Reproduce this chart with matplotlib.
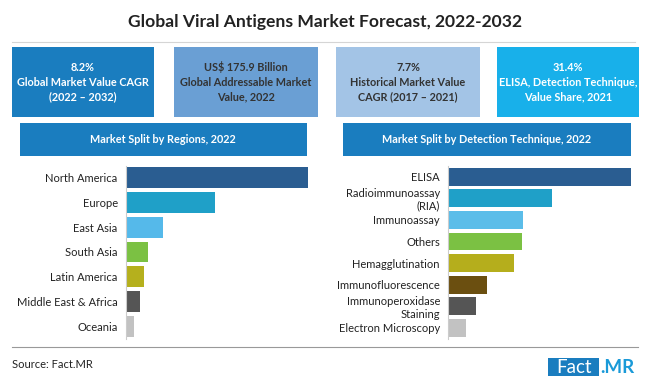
import matplotlib.pyplot as plt
from matplotlib.patches import Rectangle

plt.rcParams['font.family'] = ['Lato', 'DejaVu Sans']

# data
title = "Global Viral Antigens Market Forecast, 2022-2032"
kpi_texts = ["8.2%\nGlobal Market Value CAGR\n(2022 – 2032)",
             "US$ 175.9 Billion\nGlobal Addressable Market\nValue, 2022",
             "7.7%\nHistorical Market Value\nCAGR (2017 – 2021)",
             "31.4%\nELISA, Detection Technique,\nValue Share, 2021"]
kpi_colors = ["#1a7dbf", "#6a9fd4", "#a3c4e6", "#18b0ea"]
kpi_text_colors = ["white", "#333333", "#333333", "white"]

region_names = ["North America", "Europe", "East Asia", "South Asia",
                "Latin America", "Middle East & Africa", "Oceania"]
region_share = [49.2, 24.0, 10.0, 6.0, 5.0, 3.7, 2.2]
region_colors = ["#2a5d91", "#1fa0c8", "#55b9ea", "#7bc143",
                 "#b5b01d", "#555555", "#c2c2c2"]

tech_names = ["ELISA", "Radioimmunoassay\n(RIA)", "Immunoassay", "Others",
              "Hemagglutination", "Immunofluorescence",
              "Immunoperoxidase\nStaining", "Electron Microscopy"]
tech_share = [31.4, 17.8, 12.9, 12.7, 11.3, 6.6, 4.7, 3.0]
tech_colors = ["#2a5d91", "#1fa0c8", "#5bbde9", "#7bc143",
               "#b5ae1c", "#6b4f10", "#555555", "#c2c2c2"]

W, H = 650, 381
fig = plt.figure(figsize=(6.5, 3.81), dpi=100)


def fx(x):
    return x / W


def fy(y):
    return 1 - y / H


def box(x0, y0, x1, y1, color):
    fig.patches.append(Rectangle((fx(x0), fy(y1)), fx(x1 - x0), (y1 - y0) / H,
                                 transform=fig.transFigure, facecolor=color,
                                 edgecolor='none', zorder=0))


fig.text(fx(325), fy(22), title, ha='center', va='center', fontsize=12.6,
         fontweight='bold', color='#222222')
fig.add_artist(plt.Line2D([fx(12), fx(635)], [fy(42), fy(42)],
                          color='#d5d5d5', linewidth=0.8))

# kpi boxes
kpi_x = [(12, 154), (174, 318), (336, 480), (497, 639)]
for (x0, x1), txt, c, tc in zip(kpi_x, kpi_texts, kpi_colors, kpi_text_colors):
    box(x0, 47, x1, 117, c)
    fig.text(fx((x0 + x1) / 2), fy(82), txt, ha='center', va='center',
             fontsize=7.8, fontweight='bold', color=tc, linespacing=1.4)

# section headers
box(20, 123, 307, 156, "#1a7dbf")
fig.text(fx(163), fy(139.5), "Market Split by Regions, 2022", ha='center',
         va='center', fontsize=7.8, fontweight='bold', color='white')
box(343, 123, 631, 156, "#1a7dbf")
fig.text(fx(487), fy(139.5), "Market Split by Detection Technique, 2022",
         ha='center', va='center', fontsize=7.8, fontweight='bold', color='white')


def bar_panel(ax, names, vals, colors, height):
    y = list(range(len(names)))
    ax.barh(y, vals, color=colors, height=height)
    ax.set_yticks(y)
    ax.set_yticklabels(names, fontsize=8, color='#222222', linespacing=1.15)
    ax.set_ylim(len(names) - 0.5, -0.5)
    ax.set_xlim(0, max(vals))
    ax.tick_params(axis='y', length=0, pad=6)
    ax.set_xticks([])
    for s in ['top', 'right', 'bottom']:
        ax.spines[s].set_visible(False)
    ax.spines['left'].set_color('#cccccc')
    ax.spines['left'].set_linewidth(0.8)
    ax.patch.set_alpha(0)


ax1 = fig.add_axes([fx(126), fy(338.5), fx(307.5 - 126), 173 / H])
bar_panel(ax1, region_names, region_share, region_colors, 0.84)

ax2 = fig.add_axes([fx(448.3), fy(338.7), fx(631 - 448.3), 172.8 / H])
bar_panel(ax2, tech_names, tech_share, tech_colors, 0.83)

# footer
fig.add_artist(plt.Line2D([fx(12), fx(638)], [fy(346.5), fy(346.5)],
                          color='#999999', linewidth=0.8))
fig.text(fx(12), fy(364), "Source: Fact.MR", ha='left', va='center',
         fontsize=8, color='#222222')
box(548, 358, 599, 376, "#1a7dbf")
fig.text(fx(573.5), fy(367.5), "Fact", ha='center', va='center',
         fontsize=13.5, color='white')
fig.text(fx(600), fy(367.5), ".MR", ha='left', va='center',
         fontsize=13.5, fontweight='bold', color='#1a9ad8')

fig.savefig("out.png", dpi=100)
